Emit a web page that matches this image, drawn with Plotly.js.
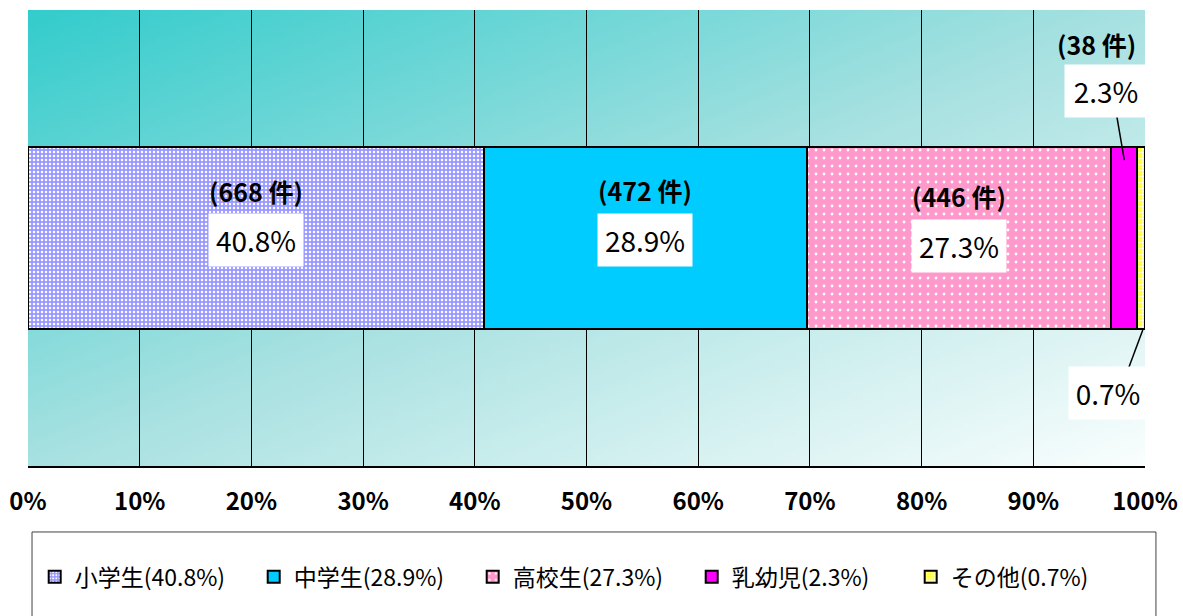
<!DOCTYPE html>
<html>
<head>
<meta charset="utf-8">
<script src="https://cdn.plot.ly/plotly-3.0.1.min.js"></script>
<style>html,body{margin:0;padding:0;background:#fff;}#chart{width:1183px;height:616px;}</style>
</head>
<body>
<div id="chart"></div>
<script>
// ---- data ----
const categories = ["小学生", "中学生", "高校生", "乳幼児", "その他"];
const percents   = [40.8, 28.9, 27.3, 2.3, 0.7];
const counts     = [668, 472, 446, 38, null];
const tickValues = [0, 10, 20, 30, 40, 50, 60, 70, 80, 90, 100];
const tickLabels = ["0%", "10%", "20%", "30%", "40%", "50%", "60%", "70%", "80%", "90%", "100%"];

// ---- styles ----
const colors = ["#9999FF", "#00CCFF", "#FF99CC", "#FF00FF", "#FFFF00"];
const patterns = [
  {shape: ".", size: 4, solidity: 0.3},
  null,
  {shape: ".", size: 8, solidity: 0.1},
  null,
  {shape: ".", size: 3, solidity: 0.5}
];
const CJK = "Noto Sans CJK JP";

// gradient background image
const cv = document.createElement("canvas");
cv.width = 200; cv.height = 200;
const ctx = cv.getContext("2d");
const g = ctx.createLinearGradient(0, 0, 200, 200);
g.addColorStop(0, "#33CCCC");
g.addColorStop(0.5, "#A8E1E1");
g.addColorStop(1, "#FAFEFE");
ctx.fillStyle = g;
ctx.fillRect(0, 0, 200, 200);
const bgURL = cv.toDataURL("image/png");

const traces = categories.map((c, i) => {
  const m = {color: colors[i], line: {color: "#000", width: 2}};
  if (patterns[i]) {
    m.pattern = Object.assign({fgcolor: "#FFFFFF", bgcolor: colors[i], fillmode: "replace"}, patterns[i]);
  }
  return {
    type: "bar", orientation: "h",
    x: [percents[i]], y: [0], width: 0.4,
    name: c + "(" + percents[i].toFixed(1) + "%)",
    marker: m, hoverinfo: "skip"
  };
});

// cumulative centers
const centers = [];
let cum = 0;
percents.forEach(p => { centers.push(cum + p / 2); cum += p; });

const annotations = [];
const shapes = [];
const countFont = {family: CJK, size: 25, color: "#000", weight: "bold"};
const pctFont = {family: CJK, size: 28, color: "#000"};
// big segments: count label + percent box
const bigOffsets = [{cy: 0.103, py: -0.004}, {cy: 0.105, py: -0.004}, {cy: 0.092, py: -0.0175}];
for (let i = 0; i < 3; i++) {
  annotations.push({
    x: centers[i], y: bigOffsets[i].cy, xref: "x", yref: "y", showarrow: false,
    text: "(" + counts[i] + " 件)", font: countFont
  });
  annotations.push({
    x: centers[i], y: bigOffsets[i].py, xref: "x", yref: "y", showarrow: false,
    text: percents[i].toFixed(1) + "%", bgcolor: "#FFFFFF", width: 92, height: 50,
    font: pctFont
  });
}
// 乳幼児
annotations.push({
  x: centers[3] - 2.45, y: 0.425, xref: "x", yref: "y", showarrow: false,
  text: "(" + counts[3] + " 件)", font: countFont
});
annotations.push({
  x: centers[3] - 1.6, y: 0.322, xref: "x", yref: "y", showarrow: false,
  text: percents[3].toFixed(1) + "%", bgcolor: "#FFFFFF", width: 80, height: 50,
  font: pctFont
});
shapes.push({type: "line", xref: "x", yref: "y", x0: centers[3] - 0.8, y0: 0.285, x1: centers[3], y1: 0.171,
  line: {color: "#000", width: 1.5}});
// その他
annotations.push({
  x: centers[4] - 2.95, y: -0.34, xref: "x", yref: "y", showarrow: false,
  text: percents[4].toFixed(1) + "%", bgcolor: "#FFFFFF", width: 76, height: 50,
  font: pctFont
});
shapes.push({type: "line", xref: "x", yref: "y", x0: centers[4] + 0.15, y0: -0.2017, x1: centers[4] - 1.25, y1: -0.294,
  line: {color: "#000", width: 1.5}});

// plot frame (gray) in data coords so it's above the background image
shapes.push({type: "rect", xref: "x", yref: "y", x0: 0, x1: 100, y0: -0.5, y1: 0.5,
  line: {color: "#868686", width: 2}, layer: "below"});
// legend frame
shapes.push({type: "rect", xref: "paper", yref: "paper", x0: 0.0036, x1: 1.0098, y0: -0.1447, y1: -0.40,
  line: {color: "#404040", width: 1}, layer: "above"});

const layout = {
  width: 1183, height: 616,
  margin: {l: 28, r: 38, t: 10, b: 150},
  paper_bgcolor: "#FFFFFF", plot_bgcolor: "rgba(0,0,0,0)",
  barmode: "stack", bargap: 0,
  showlegend: true,
  xaxis: {
    range: [0, 100], fixedrange: true,
    tickvals: tickValues, ticktext: tickLabels,
    tickfont: {family: CJK, size: 24, color: "#000", weight: "bold"},
    ticks: "", ticklabelstandoff: 13,
    showgrid: true, gridcolor: "#000", gridwidth: 1,
    showline: true, linecolor: "#000", linewidth: 2,
    zeroline: false
  },
  yaxis: {range: [-0.5, 0.5], visible: false, fixedrange: true},
  legend: {
    orientation: "h", x: 0.006, xanchor: "left", y: -0.243, yanchor: "middle",
    bgcolor: "rgba(0,0,0,0)", borderwidth: 0,
    font: {family: CJK, size: 23, color: "#000"},
    entrywidth: 174, entrywidthmode: "pixels",
    traceorder: "normal", itemclick: false, itemdoubleclick: false
  },
  images: [{
    source: bgURL, xref: "x", yref: "y", x: 0, y: 0.5, sizex: 100, sizey: 1,
    xanchor: "left", yanchor: "top", sizing: "stretch", layer: "below"
  }],
  annotations: annotations,
  shapes: shapes
};

Plotly.newPlot("chart", traces, layout, {staticPlot: true, displayModeBar: false});
</script>
</body>
</html>
